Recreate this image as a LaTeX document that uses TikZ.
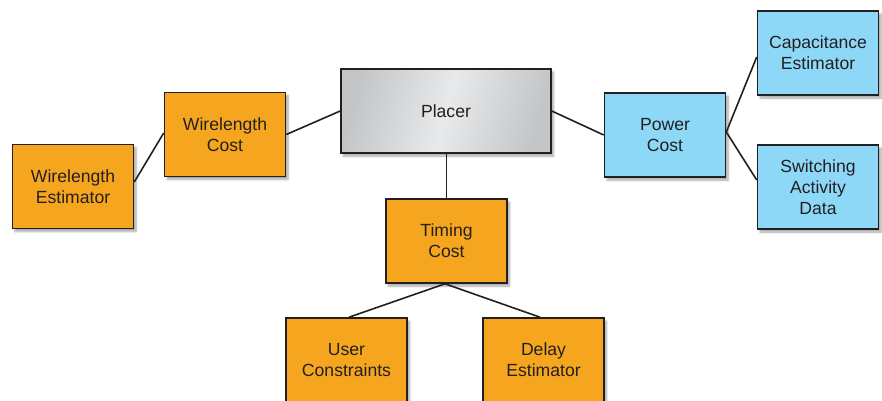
\documentclass[tikz,border=0pt]{standalone}
\usepackage{fontspec}
\setmainfont{Liberation Sans}
\usetikzlibrary{shadows.blur}
\definecolor{orng}{RGB}{246,166,30}
\definecolor{lblue}{RGB}{142,216,247}
\definecolor{dk}{RGB}{35,31,32}
\definecolor{gA}{RGB}{196,197,199}
\definecolor{gB}{RGB}{232,233,234}
\begin{document}
\begin{tikzpicture}[x=1pt,y=-1pt,
  box/.style={draw=dk, line width=1.6pt, minimum width=121pt, minimum height=84pt,
    align=center, text=dk, font=\fontsize{17.6}{21}\selectfont, inner sep=0pt,
    blur shadow={shadow xshift=2.5pt, shadow yshift=-3pt, shadow blur steps=6, shadow opacity=35}},
  obox/.style={box, fill=orng},
  bbox/.style={box, fill=lblue},
  link/.style={draw=dk, line width=1.6pt}]
\useasboundingbox (0,0) rectangle (882,400);
\node[box, minimum width=210pt, left color=gA, right color=gA, middle color=gB, shading angle=75] (placer) at (446,111) {Placer};
\node[obox] (wc) at (225,134.5) {Wirelength\\Cost};
\node[obox] (we) at (73,186.5) {Wirelength\\Estimator};
\node[bbox] (pc) at (665,135) {Power\\Cost};
\node[bbox] (cap) at (818,53) {Capacitance\\Estimator};
\node[bbox] (sw) at (818,187) {Switching\\Activity\\Data};
\node[obox] (tc) at (446.5,241) {Timing\\Cost};
\node[obox] (uc) at (346.5,360) {User\\Constraints};
\node[obox] (de) at (543.5,360) {Delay\\Estimator};
\draw[link] (placer.west) -- (wc.east);
\draw[link] ([yshift=1.5pt]wc.west) -- ([yshift=4.5pt]we.east);
\draw[link] (placer.east) -- (pc.east -| pc.west);
\draw[link] ([yshift=3pt]pc.east) -- ([yshift=-4pt]cap.west);
\draw[link] ([yshift=3pt]pc.east) -- ([yshift=7pt]sw.west);
\draw[link] (placer.south -| tc.north) -- (tc.north);
\draw[link] ([xshift=-1.5pt]tc.south) -- ([xshift=2.5pt]uc.north);
\draw[link] ([xshift=-1.5pt]tc.south) -- ([xshift=-3.5pt]de.north);
\end{tikzpicture}
\end{document}
